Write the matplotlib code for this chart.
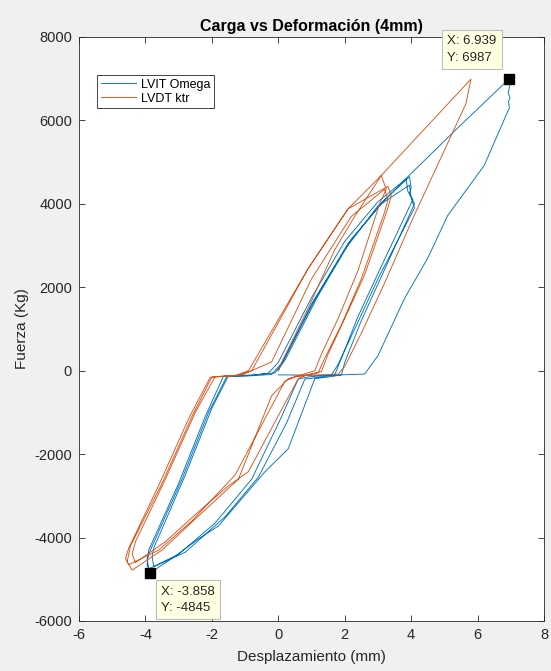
import matplotlib
matplotlib.use("Agg")
import matplotlib.pyplot as plt

plt.rcParams['font.family'] = ['Liberation Sans', 'DejaVu Sans']
plt.rcParams['axes.unicode_minus'] = False

# ---------------- data ----------------
series_names = ["LVIT Omega", "LVDT ktr"]

omega_x = [0.00, 0.10, 1.00, 2.00, 3.00, 3.95, 4.00, 3.95, 4.10, 3.30, 2.50, 2.00, 1.90,
           1.60, 1.10, 0.30, -0.40, -1.80, -2.40, -3.20, -3.858, -3.95, -3.90, -3.00, -2.20,
           -1.65, -0.90, -0.30, 0.00, 1.00, 2.00, 3.00, 3.85, 3.90, 4.05, 3.10, 2.40, 1.90,
           1.70, 1.20, 0.80, 0.25, -0.60, -1.60, -2.80, -3.75, -3.80, -3.75, -2.80, -2.00,
           -1.50, -0.70, -0.10, 0.20, 1.20, 2.20, 3.10, 3.95, 4.00, 4.10, 3.00, 2.30, 1.80,
           1.60, 0.90, 0.60, 0.10, -0.80, -1.90, -3.00, -3.90, -3.95, -3.85, -2.90, -2.10,
           -1.55, -0.80, -0.20, 0.10, 1.10, 2.10, 3.10, 3.90, 5.35, 6.939, 6.96, 6.92, 6.98,
           6.93, 6.96, 6.90, 6.20, 5.10, 4.50, 3.80, 3.00, 2.60, 1.50, 0.00]
omega_y = [0, 150, 1600, 2900, 3950, 4650, 4380, 4250, 4000, 2600, 1200, 200, -100,
           -140, -190, -1870, -2420, -3720, -4030, -4500, -4845, -4650, -4300, -2700, -1100,
           -130, -120, -60, 200, 1750, 3100, 4050, 4600, 4300, 4100, 2500, 1300, 300,
           -100, -160, -200, -1250, -2550, -3500, -4350, -4700, -4450, -4250, -2500, -900,
           -120, -100, -50, 250, 1800, 3150, 4000, 4450, 4150, 3900, 2200, 1000, 150,
           -100, -150, -200, -1100, -2600, -3650, -4400, -4750, -4500, -4300, -2600, -1000,
           -140, -120, -90, 180, 1700, 3050, 4000, 4650, 5780, 6987, 6800, 6650, 6550,
           6450, 6300, 6200, 4920, 3720, 2700, 1730, 360, -80, -110, -100]

ktr_x = [0.00, 0.10, 0.90, 1.70, 2.30, 3.10, 3.25, 3.05, 2.40, 1.80, 1.30, 1.10, 0.60,
         0.30, -0.20, -1.20, -2.40, -3.50, -4.40, -4.55, -4.45, -3.50, -2.60, -2.00, -1.30,
         -0.90, 0.90, 2.10, 3.30, 3.40, 3.30, 2.60, 2.00, 1.50, 1.30, 0.80, 0.60, 0.00,
         -0.90, -1.50, -2.40, -3.40, -4.30, -4.40, -4.30, -3.40, -2.50, -1.90, -1.10, -0.20,
         1.00, 2.20, 3.20, 3.30, 3.20, 2.50, 1.90, 1.40, 1.20, 0.50, 0.20, -0.50, -1.30,
         -2.60, -3.60, -4.50, -4.60, -4.50, -3.60, -2.70, -2.05, -1.20, -0.80, 0.90, 2.10,
         3.10, 5.80, 5.65, 4.05, 3.20, 2.50, 2.00, 1.80, 0.50]
ktr_y = [0, 200, 1500, 2900, 3700, 4680, 4350, 4000, 2400, 1250, 400, 0, -120,
         -190, -600, -2600, -3480, -4300, -4780, -4580, -4200, -2700, -1100, -150, -120,
         0, 2450, 3880, 4420, 4200, 3900, 2300, 1250, 400, -20, -120, -190, -1080,
         -2420, -2760, -3380, -4100, -4600, -4400, -4100, -2600, -1000, -140, -100, 210,
         2200, 3700, 4350, 4100, 3800, 2200, 1100, 300, -50, -150, -250, -1300, -2500,
         -3600, -4300, -4650, -4500, -4250, -2750, -1150, -160, -110, 0, 2450, 3880,
         4680, 6990, 6400, 3650, 2100, 900, 100, -80, -130]

tips_x = [6.939, -3.858]
tips_y = [6987, -4845]

x_ticks = [-6, -4, -2, 0, 2, 4, 6, 8]
y_ticks = [-6000, -4000, -2000, 0, 2000, 4000, 6000, 8000]

# ---------------- figure ----------------
W, H = 551, 671
fig = plt.figure(figsize=(W / 100, H / 100), dpi=100, facecolor='#f0f0f0')
ax = fig.add_axes([79 / W, 1 - 621 / H, (544 - 79) / W, (621 - 37) / H])
ax.set_facecolor('white')

blue = '#0072BD'
orange = '#D95319'
ax.plot(omega_x, omega_y, color=blue, lw=0.65, label=series_names[0])
ax.plot(ktr_x, ktr_y, color=orange, lw=0.65, label=series_names[1])

ax.set_xlim(-6, 8)
ax.set_ylim(-6000, 8000)
ax.set_xticks(x_ticks)
ax.set_yticks(y_ticks)

dark = '#262626'
for s in ax.spines.values():
    s.set_color(dark)
    s.set_linewidth(0.6)
ax.tick_params(direction='in', length=4, width=0.6, colors=dark, labelsize=10.5,
               top=True, right=True, labeltop=False, labelright=False, pad=5)

ax.set_title('Carga vs Deformación (4mm)', fontsize=11.5, fontweight='bold', color='black', pad=4)
ax.set_xlabel('Desplazamiento (mm)', fontsize=11, color=dark, labelpad=6)
ax.set_ylabel('Fuerza (Kg)', fontsize=11, color=dark, labelpad=4)

leg = ax.legend(loc='upper left', bbox_to_anchor=(0.039, 0.935), borderaxespad=0,
                fontsize=9, frameon=True, fancybox=False, framealpha=1,
                edgecolor=dark, handlelength=2.8, handletextpad=0.4,
                borderpad=0.3, labelspacing=0.15)
leg.get_frame().set_linewidth(0.6)

# data tips
ax.plot(tips_x, tips_y, 's', color='black', ms=7, zorder=5, clip_on=False)
offsets = [(-37, 30), (38, -27)]
for tx, ty, off in zip(tips_x, tips_y, offsets):
    ax.annotate(f'X: {tx:.3f}\nY: {ty:.0f}', xy=(tx, ty), xytext=off,
                textcoords='offset pixels', ha='center', va='center', multialignment='left',
                fontsize=9.5, color=dark, linespacing=1.5, annotation_clip=False,
                bbox=dict(boxstyle='square,pad=0.4', fc='#ffffe1', ec='#bdbdbd', lw=0.8),
                zorder=6)

fig.savefig('out.png', dpi=100, facecolor=fig.get_facecolor())
